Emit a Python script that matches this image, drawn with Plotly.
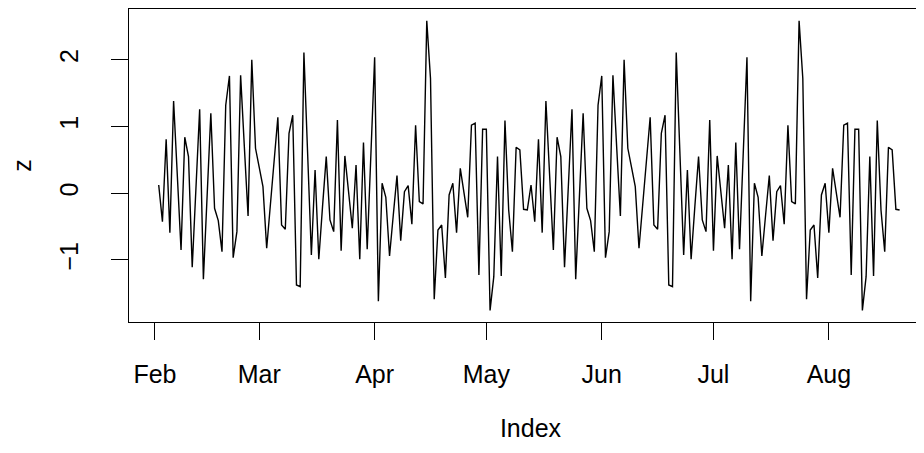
import plotly.graph_objects as go
import pandas as pd

z_values = [
    0.124, -0.425, 0.81, -0.59, 1.384, 0.2, -0.85, 0.84, 0.55, -1.11,
    0.1, 1.26, -1.29, 0.0, 1.2, -0.225, -0.41, -0.875, 1.32, 1.76,
    -0.965, -0.575, 1.77, 0.7, -0.34, 2.0, 0.675, 0.39, 0.1, -0.825,
    -0.2, 0.45, 1.14, -0.475, -0.54, 0.9, 1.17, -1.375, -1.4, 2.11,
    0.6, -0.925, 0.35, -0.99, -0.2, 0.55, -0.4, -0.575, 1.1, -0.86,
    0.56, 0.0, -0.525, 0.425, -0.99, 0.76, -0.84, 0.6, 2.04, -1.62,
    0.15, -0.06, -0.94, -0.33, 0.265, -0.71, 0.025, 0.115, -0.465, 1.02,
    -0.125, -0.16, 2.585, 1.72, -1.59, -0.55, -0.475, -1.27, -0.025, 0.15,
    -0.59, 0.375, 0.0, -0.36, 1.02, 1.05, -1.225, 0.96, 0.96, -1.756,
    -1.25, 0.55, -1.24, 1.09, -0.25, -0.875, 0.69, 0.65, -0.24, -0.25,
    0.124, -0.425, 0.81, -0.59, 1.384, 0.2, -0.85, 0.84, 0.55, -1.11,
    0.1, 1.26, -1.29, 0.0, 1.2, -0.225, -0.41, -0.875, 1.32, 1.76,
    -0.965, -0.575, 1.77, 0.7, -0.34, 2.0, 0.675, 0.39, 0.1, -0.825,
    -0.2, 0.45, 1.14, -0.475, -0.54, 0.9, 1.17, -1.375, -1.4, 2.11,
    0.6, -0.925, 0.35, -0.99, -0.2, 0.55, -0.4, -0.575, 1.1, -0.86,
    0.56, 0.0, -0.525, 0.425, -0.99, 0.76, -0.84, 0.6, 2.04, -1.62,
    0.15, -0.06, -0.94, -0.33, 0.265, -0.71, 0.025, 0.115, -0.465, 1.02,
    -0.125, -0.16, 2.585, 1.72, -1.59, -0.55, -0.475, -1.27, -0.025, 0.15,
    -0.59, 0.375, 0.0, -0.36, 1.02, 1.05, -1.225, 0.96, 0.96, -1.756,
    -1.25, 0.55, -1.24, 1.09, -0.25, -0.875, 0.69, 0.65, -0.24, -0.25,
]
start_date = "2023-02-02"
dates = pd.date_range(start_date, periods=len(z_values), freq="D")

month_ticks = ["2023-02-01", "2023-03-01", "2023-04-01", "2023-05-01",
               "2023-06-01", "2023-07-01", "2023-08-01"]
month_labels = ["Feb", "Mar", "Apr", "May", "Jun", "Jul", "Aug"]
y_ticks = [-1, 0, 1, 2]

x0 = pd.Timestamp(start_date) - pd.Timedelta(days=7.98)
x1 = pd.Timestamp(start_date) + pd.Timedelta(days=207.7)

FONT = "Liberation Sans, Arial, sans-serif"

fig = go.Figure(go.Scatter(
    x=dates, y=z_values, mode="lines",
    line=dict(color="black", width=1.4),
    hoverinfo="skip",
))

fig.update_layout(
    width=924, height=453,
    margin=dict(l=121, r=0, t=1, b=139, autoexpand=False),
    paper_bgcolor="white", plot_bgcolor="white",
    font=dict(family=FONT, size=25, color="black"),
    showlegend=False,
)
fig.update_xaxes(
    range=[x0, x1], showgrid=False, zeroline=False, automargin=False,
    showline=True, mirror=True, linecolor="black", linewidth=1.3,
    ticks="outside", ticklen=17, tickwidth=1.3, tickcolor="black",
    tickvals=month_ticks, ticktext=month_labels,
    ticklabelstandoff=13,
    title=dict(text="Index", standoff=32, font=dict(size=25)),
)
fig.update_yaxes(
    range=[-1.930, 2.763], showgrid=False, zeroline=False, automargin=False,
    showline=True, mirror=False, linecolor="black", linewidth=1.3,
    ticks="outside", ticklen=17, tickwidth=1.3, tickcolor="black",
    tickvals=y_ticks, ticktext=["\u22121", "0", "1", "2"],
    tickangle=-90, ticklabelstandoff=23,
    title=dict(text="z", standoff=58, font=dict(size=25)),
)

fig.write_html("out.html")
